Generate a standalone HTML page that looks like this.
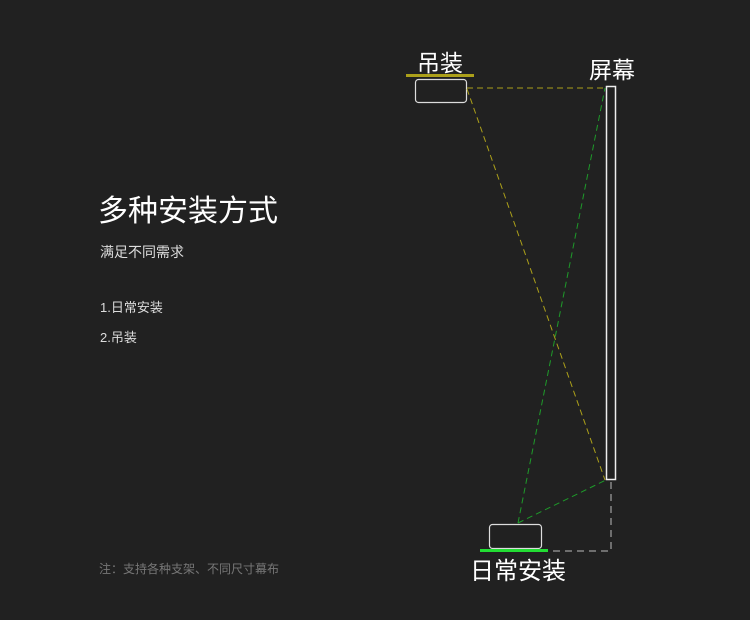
<!DOCTYPE html>
<html><head><meta charset="utf-8"><style>
body{margin:0;background:#212121;width:750px;height:620px;overflow:hidden;font-family:"Liberation Sans","Noto Sans CJK SC",sans-serif;color:#fff}
.t{position:absolute;white-space:nowrap}
</style></head><body>
<svg width="750" height="620" style="position:absolute;left:0;top:0">
<rect x="406" y="74" width="68" height="3" fill="#aca01a"/>
<rect x="415.5" y="79.5" width="51" height="23" rx="3" fill="none" stroke="#ddd" stroke-width="1.2"/>
<rect x="606.5" y="86.5" width="9" height="393" fill="none" stroke="#eee" stroke-width="1.5"/>
<g stroke="#aca01a" stroke-width="1" stroke-dasharray="6,4" fill="none">
<line x1="467" y1="88" x2="605" y2="88"/>
<line x1="467" y1="89" x2="605" y2="480"/>
</g>
<g stroke="#1e9a2a" stroke-width="1" stroke-dasharray="6,4" fill="none">
<line x1="518" y1="523" x2="605" y2="88"/>
<line x1="518" y1="523" x2="606" y2="480"/>
</g>
<g stroke="#888" stroke-width="1.5" stroke-dasharray="7,5" fill="none">
<polyline points="611,482 611,551 548,551"/>
</g>
<rect x="489.5" y="524.5" width="52" height="24" rx="3" fill="none" stroke="#ddd" stroke-width="1.2"/>
<rect x="480" y="549" width="68" height="3" fill="#22dd33"/>
</svg>
<div class="t" style="left:417px;top:44px;font-size:23px">吊装</div>
<div class="t" style="left:589px;top:51px;font-size:23px">屏幕</div>
<div class="t" style="left:470px;top:551px;font-size:24px">日常安装</div>
<div class="t" style="left:98px;top:186px;font-size:30px">多种安装方式</div>
<div class="t" style="left:100px;top:242px;font-size:14px;color:#ddd">满足不同需求</div>
<div class="t" style="left:100px;top:297px;font-size:13px;color:#ddd">1.日常安装</div>
<div class="t" style="left:100px;top:327px;font-size:13px;color:#ddd">2.吊装</div>
<div class="t" style="left:99px;top:560px;font-size:12px;color:#777">注：支持各种支架、不同尺寸幕布</div>
</body></html>
